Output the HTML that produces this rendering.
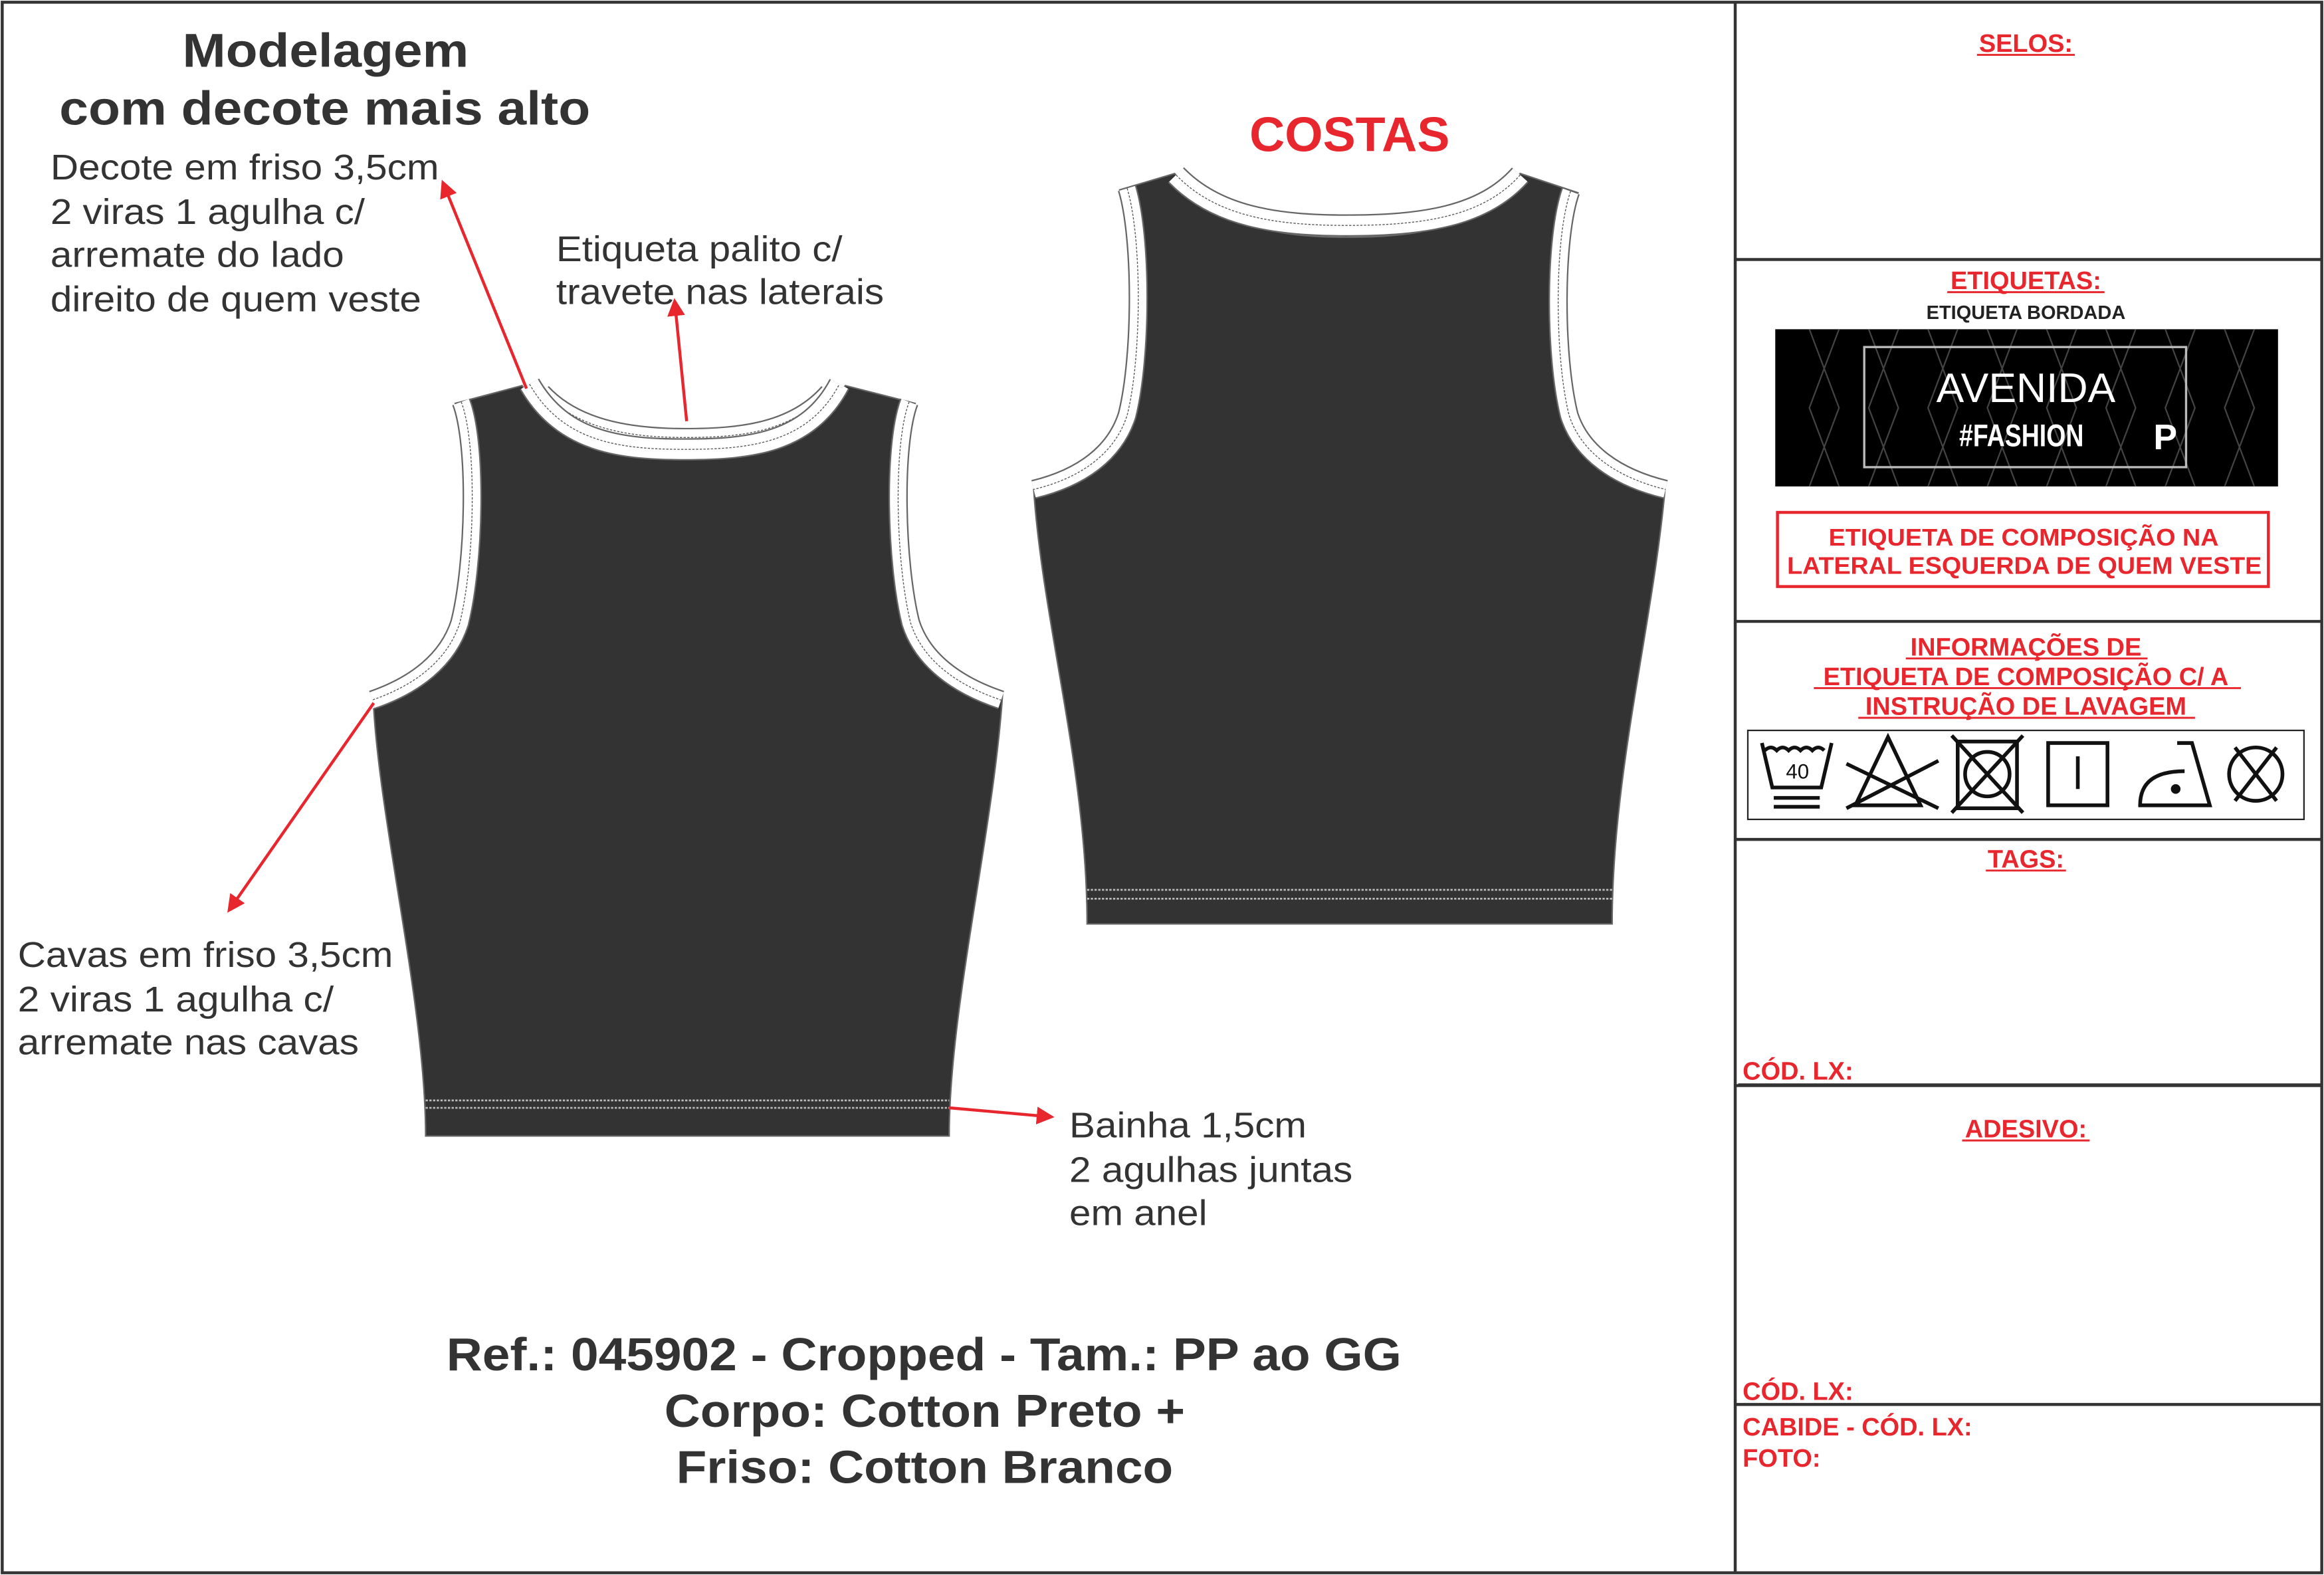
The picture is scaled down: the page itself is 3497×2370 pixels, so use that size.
<!DOCTYPE html>
<html><head><meta charset="utf-8">
<style>
html,body{margin:0;padding:0;background:#fff;}
svg{display:block;}
text{font-family:"Liberation Sans",Arial,sans-serif;}
</style></head>
<body>
<svg width="3497" height="2370" viewBox="0 0 1567 1062" preserveAspectRatio="none" xmlns="http://www.w3.org/2000/svg">
<defs>
<marker id="ah" markerWidth="12" markerHeight="12" refX="9" refY="6" orient="auto" markerUnits="userSpaceOnUse">
<path d="M0,0 L12,6 L0,12 Z" fill="#e8262e"/>
</marker>
</defs>
<rect x="0" y="0" width="1567" height="1062" fill="#fff"/>
<rect x="1.5" y="1.5" width="1564" height="1059" fill="none" stroke="#333" stroke-width="2"/>
<line x1="1170" y1="1" x2="1170" y2="1061" stroke="#333" stroke-width="2"/>
<g stroke="#333" stroke-width="2">
<line x1="1170" y1="175" x2="1566" y2="175"/>
<line x1="1170" y1="419" x2="1566" y2="419"/>
<line x1="1170" y1="566" x2="1566" y2="566"/>
<line x1="1170" y1="732" x2="1566" y2="732"/>
<line x1="1170" y1="947" x2="1566" y2="947"/>
</g>

<!-- FRONT garment -->
<g>
<path d="M307,272 L352,260 C380,300 420,310 462,310 C505,310 545,300 570,260 L617,272 C603,300 600,380 612,420 C622,445 645,460 676,468 C670,560 640,680 640,766 L287,766 C287,680 257,560 252,478 C283,462 305,445 312,420 C322,380 320,300 307,272 Z" fill="#333" stroke="#666" stroke-width="1"/>
<path d="M366,264 C390,290 430,294 462,294 C500,294 535,290 558,264" fill="none" stroke="#666" stroke-width="11"/>
<path d="M366,264 C390,290 430,294 462,294 C500,294 535,290 558,264" fill="none" stroke="#fff" stroke-width="9"/>
<path d="M368,266 C392,291 430,295 462,295 C500,295 533,291 556,266" fill="none" stroke="#555" stroke-width="0.6" stroke-dasharray="1.5,1"/>
<path d="M357,259 C380,299 420,303 462,303 C505,303 545,299 566,259" fill="none" stroke="#666" stroke-width="15"/>
<path d="M357,259 C380,299 420,303 462,303 C505,303 545,299 566,259" fill="none" stroke="#fff" stroke-width="13"/>
<path d="M357,259 C380,299 420,303 462,303 C505,303 545,299 566,259" fill="none" stroke="#555" stroke-width="0.6" stroke-dasharray="1.5,1"/>
<path d="M311,271 C322,300 320,380 310,420 C302,445 280,462 251,472" fill="none" stroke="#666" stroke-width="13"/>
<path d="M311,271 C322,300 320,380 310,420 C302,445 280,462 251,472" fill="none" stroke="#fff" stroke-width="11"/>
<path d="M311,271 C322,300 320,380 310,420 C302,445 280,462 251,472" fill="none" stroke="#555" stroke-width="0.6" stroke-dasharray="1.5,1"/>
<path d="M613,271 C602,300 604,380 614,420 C622,445 645,462 675,472" fill="none" stroke="#666" stroke-width="13"/>
<path d="M613,271 C602,300 604,380 614,420 C622,445 645,462 675,472" fill="none" stroke="#fff" stroke-width="11"/>
<path d="M613,271 C602,300 604,380 614,420 C622,445 645,462 675,472" fill="none" stroke="#555" stroke-width="0.6" stroke-dasharray="1.5,1"/>
<line x1="287" y1="742" x2="640" y2="742" stroke="#bbb" stroke-width="1.2" stroke-dasharray="1.5,1"/>
<line x1="287" y1="747" x2="640" y2="747" stroke="#bbb" stroke-width="1.2" stroke-dasharray="1.5,1"/>
</g>

<!-- BACK garment -->
<g>
<path d="M755,128 L792,117 C820,152 860,160 908,160 C960,160 1000,152 1025,117 L1064,130 C1052,160 1050,240 1060,280 C1068,305 1090,320 1123,326 C1115,420 1087,520 1087,623 L733,623 C733,520 703,420 697,330 C730,320 752,305 758,280 C768,240 768,160 755,128 Z" fill="#333" stroke="#666" stroke-width="1"/>
<path d="M793,118 C820,146 860,152 908,152 C960,152 1000,146 1025,118" fill="none" stroke="#666" stroke-width="15"/>
<path d="M793,118 C820,146 860,152 908,152 C960,152 1000,146 1025,118" fill="none" stroke="#fff" stroke-width="13"/>
<path d="M793,118 C820,146 860,152 908,152 C960,152 1000,146 1025,118" fill="none" stroke="#555" stroke-width="0.6" stroke-dasharray="1.5,1"/>
<path d="M760,127 C770,160 770,240 760,280 C752,305 730,322 697,330" fill="none" stroke="#666" stroke-width="13"/>
<path d="M760,127 C770,160 770,240 760,280 C752,305 730,322 697,330" fill="none" stroke="#fff" stroke-width="11"/>
<path d="M760,127 C770,160 770,240 760,280 C752,305 730,322 697,330" fill="none" stroke="#555" stroke-width="0.6" stroke-dasharray="1.5,1"/>
<path d="M1059,129 C1048,160 1048,240 1058,280 C1066,305 1090,322 1123,330" fill="none" stroke="#666" stroke-width="13"/>
<path d="M1059,129 C1048,160 1048,240 1058,280 C1066,305 1090,322 1123,330" fill="none" stroke="#fff" stroke-width="11"/>
<path d="M1059,129 C1048,160 1048,240 1058,280 C1066,305 1090,322 1123,330" fill="none" stroke="#555" stroke-width="0.6" stroke-dasharray="1.5,1"/>
<line x1="733" y1="600" x2="1087" y2="600" stroke="#bbb" stroke-width="1.2" stroke-dasharray="1.5,1"/>
<line x1="733" y1="606" x2="1087" y2="606" stroke="#bbb" stroke-width="1.2" stroke-dasharray="1.5,1"/>
</g>

<g stroke="#e8262e" stroke-width="2" fill="none">
<line x1="355" y1="262" x2="299" y2="124" marker-end="url(#ah)"/>
<line x1="463" y1="284" x2="455" y2="204" marker-end="url(#ah)"/>
<line x1="252" y1="474" x2="155" y2="613" marker-end="url(#ah)"/>
<line x1="640" y1="747" x2="708" y2="753" marker-end="url(#ah)"/>
</g>

<g fill="#333">
<text x="123" y="45" font-size="32" font-weight="bold" textLength="193" lengthAdjust="spacingAndGlyphs">Modelagem</text>
<text x="40" y="84" font-size="32" font-weight="bold" textLength="358" lengthAdjust="spacingAndGlyphs">com decote mais alto</text>
<g font-size="24">
<text x="34" y="121" textLength="262" lengthAdjust="spacingAndGlyphs">Decote em friso 3,5cm</text>
<text x="34" y="151" textLength="212" lengthAdjust="spacingAndGlyphs">2 viras 1 agulha c/</text>
<text x="34" y="180" textLength="198" lengthAdjust="spacingAndGlyphs">arremate do lado</text>
<text x="34" y="210" textLength="250" lengthAdjust="spacingAndGlyphs">direito de quem veste</text>
<text x="375" y="176" textLength="193" lengthAdjust="spacingAndGlyphs">Etiqueta palito c/</text>
<text x="375" y="205" textLength="221" lengthAdjust="spacingAndGlyphs">travete nas laterais</text>
<text x="12" y="652" textLength="253" lengthAdjust="spacingAndGlyphs">Cavas em friso 3,5cm</text>
<text x="12" y="682" textLength="213" lengthAdjust="spacingAndGlyphs">2 viras 1 agulha c/</text>
<text x="12" y="711" textLength="230" lengthAdjust="spacingAndGlyphs">arremate nas cavas</text>
<text x="721" y="767" textLength="160" lengthAdjust="spacingAndGlyphs">Bainha 1,5cm</text>
<text x="721" y="797" textLength="191" lengthAdjust="spacingAndGlyphs">2 agulhas juntas</text>
<text x="721" y="826" textLength="93" lengthAdjust="spacingAndGlyphs">em anel</text>
</g>
<g font-size="31" font-weight="bold">
<text x="301" y="924" textLength="644" lengthAdjust="spacingAndGlyphs">Ref.: 045902 - Cropped - Tam.: PP ao GG</text>
<text x="448" y="962" textLength="351" lengthAdjust="spacingAndGlyphs">Corpo: Cotton Preto +</text>
<text x="456" y="1000" textLength="335" lengthAdjust="spacingAndGlyphs">Friso: Cotton Branco</text>
</g>
</g>
<text x="910" y="102" font-size="33" font-weight="bold" fill="#e8262e" text-anchor="middle">COSTAS</text>

<g fill="#e8262e" font-size="17" font-weight="bold" text-anchor="middle">
<text x="1366" y="35">SELOS:</text>
<text x="1366" y="195">ETIQUETAS:</text>
<text x="1366" y="442">INFORMAÇÕES DE</text>
<text x="1366" y="462">ETIQUETA DE COMPOSIÇÃO C/ A</text>
<text x="1366" y="482">INSTRUÇÃO DE LAVAGEM</text>
<text x="1366" y="585">TAGS:</text>
<text x="1366" y="767">ADESIVO:</text>
</g>
<g stroke="#e8262e" stroke-width="1.3">
<line x1="1333" y1="37" x2="1399" y2="37"/>
<line x1="1313" y1="197" x2="1419" y2="197"/>
<line x1="1285" y1="444" x2="1448" y2="444"/>
<line x1="1223" y1="464" x2="1511" y2="464"/>
<line x1="1253" y1="484" x2="1480" y2="484"/>
<line x1="1339" y1="587" x2="1393" y2="587"/>
<line x1="1323" y1="769" x2="1409" y2="769"/>
</g>
<text x="1366" y="215" font-size="13" font-weight="bold" fill="#222" text-anchor="middle">ETIQUETA BORDADA</text>
<rect x="1197" y="222" width="339" height="106" fill="#000"/>
<g stroke="#444" stroke-width="1" fill="none">
<path d="M1220,222 L1240,275 L1220,328 M1240,222 L1220,275 L1240,328 M1260,222 L1280,275 L1260,328 M1280,222 L1260,275 L1280,328 M1300,222 L1320,275 L1300,328 M1320,222 L1300,275 L1320,328 M1340,222 L1360,275 L1340,328 M1360,222 L1340,275 L1360,328 M1380,222 L1400,275 L1380,328 M1400,222 L1380,275 L1400,328 M1420,222 L1440,275 L1420,328 M1440,222 L1420,275 L1440,328 M1460,222 L1480,275 L1460,328 M1480,222 L1460,275 L1480,328 M1500,222 L1520,275 L1500,328 M1520,222 L1500,275 L1520,328"/>
</g>
<rect x="1257" y="234" width="217" height="81" fill="none" stroke="#bbb" stroke-width="1.5"/>
<text x="1366" y="271" font-size="28" fill="#fff" text-anchor="middle">AVENIDA</text>
<text x="1363" y="301" font-size="21" font-weight="bold" fill="#fff" text-anchor="middle" transform="translate(1363 0) scale(0.8 1) translate(-1363 0)">#FASHION</text>
<text x="1460" y="303" font-size="24" font-weight="bold" fill="#fff" text-anchor="middle">P</text>
<rect x="1198.5" y="345.5" width="331" height="50" fill="none" stroke="#e8262e" stroke-width="2"/>
<g fill="#e8262e" font-size="16" font-weight="bold">
<text x="1233" y="368" textLength="263" lengthAdjust="spacingAndGlyphs">ETIQUETA DE COMPOSIÇÃO NA</text>
<text x="1205" y="387" textLength="320" lengthAdjust="spacingAndGlyphs">LATERAL ESQUERDA DE QUEM VESTE</text>
</g>
<rect x="1178.5" y="492.5" width="375" height="60" fill="none" stroke="#222" stroke-width="1"/>
<g stroke="#111" stroke-width="2.5" fill="none">
<path d="M1188,501 L1195,531 L1228,531 L1235,501"/>
<path d="M1190,506 q4,-4 8,0 q4,-4 8,0 q4,-4 8,0 q4,-4 8,0 q4,-4 8,0"/>
<line x1="1196" y1="538" x2="1227" y2="538"/>
<line x1="1196" y1="544" x2="1227" y2="544"/>
<path d="M1273,497 L1251,543 L1295,543 Z"/>
<line x1="1245" y1="515" x2="1307" y2="545"/>
<line x1="1245" y1="545" x2="1307" y2="513"/>
<rect x="1320" y="500" width="40" height="45"/>
<circle cx="1340" cy="522" r="15"/>
<line x1="1316" y1="496" x2="1364" y2="548"/>
<line x1="1364" y1="496" x2="1316" y2="548"/>
<rect x="1381" y="501" width="40" height="42"/>
<line x1="1401" y1="510" x2="1401" y2="532"/>
<path d="M1468,501 L1478,501 L1490,543 L1443,543 C1443,530 1450,520 1473,520"/>
<circle cx="1467" cy="532" r="2" fill="#111"/>
<circle cx="1521" cy="522" r="18"/>
<line x1="1507" y1="504" x2="1535" y2="540"/>
<line x1="1535" y1="504" x2="1507" y2="540"/>
</g>
<text x="1212" y="525" font-size="14" fill="#111" text-anchor="middle">40</text>

<g fill="#e8262e" font-size="17" font-weight="bold">
<text x="1175" y="728">CÓD. LX:</text>
<text x="1175" y="944">CÓD. LX:</text>
<text x="1175" y="968">CABIDE - CÓD. LX:</text>
<text x="1175" y="989">FOTO:</text>
</g>
<line x1="1172" y1="731" x2="1566" y2="731" stroke="#333" stroke-width="1"/>
</svg>
</body></html>
